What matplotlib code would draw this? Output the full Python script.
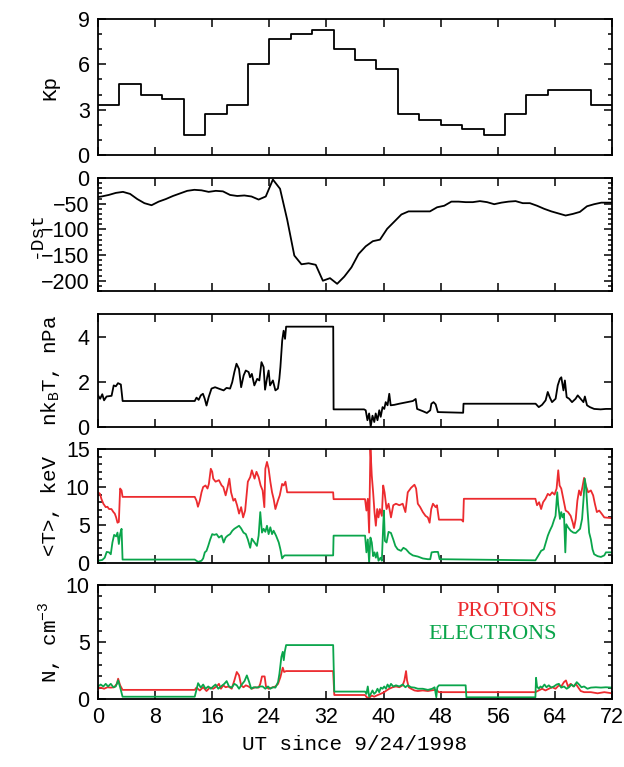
import numpy as np
import matplotlib
matplotlib.use("Agg")
import matplotlib.pyplot as plt
from matplotlib.ticker import MultipleLocator

# ---- data ----
kp_start = [0, 3, 6, 9, 12, 15, 18, 21, 24, 27, 30, 33, 36, 39, 42, 45, 48, 51, 54, 57, 60, 63, 66, 69]
kp_vals = [3.3, 4.7, 4.0, 3.7, 1.3, 2.7, 3.3, 6.0, 7.7, 8.0, 8.3, 7.0, 6.3, 5.7, 2.7, 2.3, 2.0, 1.7,
           1.3, 2.7, 4.0, 4.3, 4.3, 3.3]

dst_t = [0] + [h + 0.5 for h in range(72)] + [72]
dst_vals = [-37,
            -36, -33, -29, -27, -31, -41, -49, -53, -46, -41, -35, -30, -25, -23, -24, -27, -25, -26,
            -33, -35, -34, -36, -42, -36, -3, -21, -81, -151, -168, -166, -169, -200, -195, -206, -192,
            -174, -148, -133, -123, -120, -99, -85, -71, -65, -65, -65, -65, -57, -54, -46, -46, -47,
            -47, -45, -47, -51, -48, -46, -45, -49, -49, -54, -60, -65, -69, -73, -70, -66, -55, -51,
            -48, -48,
            -48]

pressure = [(0, 1.4), (0.3, 1.25), (0.6, 1.45), (0.85, 1.18), (1.2, 1.35), (1.9, 1.38), (2.2, 1.84),
            (2.5, 1.8), (2.8, 1.94), (3.2, 1.88), (3.45, 1.15), (13.55, 1.15), (13.8, 1.3), (14.1, 1.2),
            (14.4, 1.4), (14.7, 1.47), (14.95, 1.25), (15.2, 0.95), (15.5, 1.32), (15.9, 1.7),
            (16.4, 1.76), (16.9, 1.7), (17.6, 1.62), (18.0, 1.73), (18.5, 1.7), (18.8, 1.98),
            (19.1, 2.43), (19.4, 2.8), (19.75, 2.57), (20.05, 1.76), (20.4, 2.28), (20.7, 2.5),
            (21.1, 2.43), (21.3, 2.2), (21.55, 2.35), (21.9, 1.84), (22.3, 2.13), (22.6, 2.06),
            (22.9, 2.87), (23.2, 2.65), (23.4, 1.65), (23.7, 2.2), (23.9, 2.5), (24.1, 1.84),
            (24.5, 2.06), (24.85, 1.62), (25.2, 1.7), (25.4, 2.13), (25.55, 2.65), (25.8, 3.82),
            (26.0, 4.26), (26.2, 3.9), (26.35, 4.44), (32.95, 4.44), (33.0, 0.78), (37.27, 0.78),
            (37.5, 0.74), (37.74, 0.3), (37.98, 0.6), (38.2, 0.02), (38.45, 0.5), (38.7, 0.22),
            (38.9, 0.6), (39.15, 0.3), (39.4, 0.74), (39.6, 0.45), (39.86, 0.88), (40.1, 0.8),
            (40.3, 1.1), (40.56, 0.96), (40.8, 1.47), (41.0, 0.96), (41.5, 0.98), (42.2, 1.03),
            (43.15, 1.09), (44.1, 1.15), (44.5, 1.24), (44.7, 0.8), (45.5, 0.7), (46.07, 0.62),
            (46.54, 0.74), (46.7, 1.03), (47.0, 1.1), (47.3, 1.0), (47.6, 0.66), (51.15, 0.63),
            (51.2, 1.03), (61.3, 1.03), (61.74, 0.88), (62.2, 0.98), (62.7, 1.18), (63.0, 1.55),
            (63.3, 1.3), (63.6, 1.1), (64.1, 1.25), (64.4, 1.84), (64.7, 2.13), (64.9, 2.2),
            (65.2, 1.62), (65.4, 2.06), (65.65, 1.32), (66.0, 1.25), (66.4, 1.1), (66.9, 1.25),
            (67.2, 1.4), (67.6, 1.25), (68.0, 1.1), (68.2, 1.35), (68.5, 0.96), (68.9, 0.88),
            (69.5, 0.8), (70.4, 0.78), (71.15, 0.8), (72, 0.8)]

temp_p = [(0, 9.3), (0.28, 9.1), (0.47, 8.45), (0.75, 7.8), (1.08, 7.35), (1.32, 7.4), (1.55, 7.1),
          (1.88, 7.1), (2.16, 6.7), (2.35, 6.5), (2.54, 6.0), (2.73, 5.3), (2.92, 5.4), (3.1, 9.8),
          (3.3, 9.55), (3.44, 8.7), (13.55, 8.7), (13.8, 8.2), (14.0, 7.4), (14.26, 8.2), (14.5, 9.3),
          (14.73, 10.0), (15.06, 10.2), (15.34, 9.8), (15.53, 10.4), (15.8, 12.4), (16.0, 12.0),
          (16.14, 11.1), (16.47, 10.7), (16.94, 10.9), (17.32, 10.2), (17.55, 10.0), (17.88, 8.9),
          (18.16, 10.0), (18.4, 11.1), (18.64, 9.3), (18.96, 8.2), (19.2, 8.45), (19.48, 7.6),
          (19.76, 6.5), (20.05, 7.35), (20.33, 6.0), (20.61, 6.9), (20.99, 10.7), (21.32, 11.3),
          (21.55, 12.2), (21.93, 11.1), (22.2, 12.0), (22.5, 11.3), (22.78, 10.2), (23.06, 9.55),
          (23.3, 7.35), (23.44, 12.4), (23.67, 13.3), (23.9, 12.4), (24.14, 10.7), (24.38, 9.3),
          (24.6, 8.45), (24.85, 7.1), (25.2, 8.2), (25.46, 8.9), (25.79, 10.4), (26.02, 10.2),
          (26.26, 10.7), (26.5, 9.3), (32.94, 9.3), (33.0, 8.4), (37.41, 8.4), (37.6, 6.9),
          (37.79, 8.45), (37.98, 4.0), (38.16, 15.2), (38.35, 11.5), (38.54, 9.3), (38.73, 6.7),
          (38.92, 4.9), (39.11, 7.1), (39.29, 6.0), (39.48, 7.1), (39.76, 6.2), (39.95, 10.2),
          (40.14, 9.3), (40.42, 7.1), (40.7, 7.8), (41.04, 6.0), (41.36, 7.6), (41.74, 7.8),
          (42.21, 7.6), (42.68, 7.8), (43.06, 6.7), (43.39, 9.3), (43.86, 9.9), (44.33, 10.3),
          (44.56, 9.8), (44.8, 7.8), (45.13, 7.35), (45.5, 6.7), (45.88, 6.2), (46.2, 6.0),
          (46.45, 5.3), (46.68, 7.1), (46.92, 7.8), (47.29, 7.35), (47.48, 7.6), (47.76, 5.7),
          (50.92, 5.7), (51.15, 5.45), (51.25, 8.45), (61.27, 8.45), (61.5, 7.6), (61.79, 8.0),
          (62.07, 7.1), (62.35, 8.0), (62.68, 8.45), (63.01, 9.1), (63.29, 8.9), (63.62, 9.3),
          (63.95, 9.0), (64.24, 9.8), (64.47, 12.2), (64.66, 10.2), (64.89, 9.8), (65.18, 8.45),
          (65.51, 6.9), (65.84, 6.7), (66.21, 6.2), (66.49, 5.35), (66.68, 4.6), (66.92, 5.8),
          (67.15, 8.2), (67.39, 9.55), (67.62, 8.9), (67.86, 10.0), (68.09, 11.2), (68.33, 10.2),
          (68.66, 9.3), (69.04, 9.55), (69.36, 8.9), (69.6, 7.8), (69.88, 6.7), (70.21, 6.9),
          (70.54, 6.5), (70.92, 6.0), (72, 5.9)]

temp_e = [(0, 0.3), (0.6, 0.4), (0.94, 0.7), (1.22, 1.46), (1.55, 1.4), (1.79, 1.15), (2.02, 2.7),
          (2.26, 3.7), (2.54, 3.5), (2.73, 4.0), (2.92, 2.5), (3.1, 3.8), (3.3, 4.5), (3.44, 0.45),
          (13.55, 0.45), (14.02, 0.15), (14.5, 0.3), (14.73, 0.6), (14.96, 1.4), (15.2, 1.6),
          (15.44, 2.25), (15.72, 3.1), (16.0, 3.8), (16.28, 3.7), (16.61, 3.8), (16.94, 3.35),
          (17.32, 3.6), (17.6, 2.7), (17.88, 3.35), (18.16, 3.6), (18.5, 3.8), (18.82, 4.25),
          (19.1, 4.5), (19.44, 4.7), (19.76, 4.9), (20.05, 4.55), (20.38, 4.0), (20.71, 3.8),
          (20.99, 3.1), (21.32, 2.0), (21.55, 3.2), (21.93, 2.7), (22.26, 2.25), (22.5, 3.6),
          (22.73, 6.7), (22.97, 4.0), (23.2, 4.5), (23.44, 4.1), (23.67, 4.9), (23.9, 3.8),
          (24.14, 4.7), (24.38, 3.8), (24.6, 4.25), (24.94, 3.6), (25.32, 2.7), (25.55, 1.8),
          (25.79, 0.6), (26.02, 0.9), (26.16, 1.0), (32.94, 1.0), (33.0, 3.6), (37.41, 3.6),
          (37.6, 1.4), (37.79, 3.1), (37.98, 0.05), (38.16, 3.35), (38.35, 2.7), (38.54, 0.9),
          (38.73, 1.4), (38.92, 0.7), (39.11, 1.4), (39.29, 0.3), (39.58, 0.7), (39.76, 0.3),
          (39.95, 4.9), (40.05, 6.9), (40.19, 2.9), (40.42, 2.7), (40.7, 4.1), (41.04, 3.95),
          (41.36, 3.1), (41.65, 2.25), (41.98, 1.8), (42.45, 1.6), (42.78, 2.0), (43.15, 1.8),
          (43.62, 1.3), (44.1, 1.0), (44.8, 0.85), (45.5, 0.6), (46.2, 0.5), (46.54, 0.5),
          (46.73, 1.4), (47.15, 1.46), (47.62, 1.46), (47.86, 0.5), (61.27, 0.35), (61.5, 0.7),
          (61.79, 1.15), (62.07, 1.6), (62.45, 1.8), (62.73, 2.7), (63.01, 3.6), (63.29, 4.25),
          (63.62, 4.9), (63.86, 5.6), (64.09, 6.2), (64.33, 9.3), (64.47, 7.6), (64.71, 5.8),
          (64.89, 6.7), (65.08, 6.0), (65.27, 6.5), (65.46, 1.4), (65.6, 5.1), (65.84, 4.7),
          (66.21, 4.25), (66.59, 4.0), (66.92, 3.95), (67.25, 4.25), (67.53, 4.5), (67.81, 5.8),
          (68.05, 8.9), (68.19, 11.1), (68.38, 9.8), (68.56, 7.1), (68.8, 4.0), (69.04, 3.1),
          (69.27, 1.8), (69.5, 1.15), (69.98, 0.9), (70.45, 0.8), (70.92, 1.0), (71.15, 1.4),
          (72, 1.4)]

dens_p = [(0, 0.9), (0.38, 1.0), (0.85, 0.9), (1.32, 1.03), (1.79, 1.0), (2.26, 1.03), (2.64, 1.33),
          (2.82, 1.78), (3.1, 1.2), (3.44, 0.8), (13.55, 0.8), (13.79, 1.0), (14.26, 0.75),
          (14.73, 1.03), (15.2, 0.7), (15.67, 1.0), (16.14, 0.9), (16.61, 1.1), (16.94, 1.33),
          (17.22, 0.9), (17.55, 1.2), (17.88, 1.03), (18.26, 1.1), (18.73, 0.9), (19.1, 1.63),
          (19.44, 2.37), (19.76, 2.07), (20.05, 1.2), (20.38, 1.03), (20.71, 1.2), (21.08, 1.1),
          (21.55, 0.9), (22.02, 1.03), (22.5, 1.0), (22.73, 1.33), (22.97, 1.98), (23.34, 1.98),
          (23.53, 1.1), (23.9, 0.9), (24.38, 1.0), (24.85, 1.1), (25.22, 1.33), (25.55, 1.92),
          (25.88, 2.75), (26.07, 2.37), (26.35, 2.45), (32.94, 2.45), (33.1, 0.35), (37.41, 0.35),
          (37.65, 0.15), (37.98, 0.1), (38.35, 0.3), (38.68, 0.2), (39.01, 0.3), (39.39, 0.4),
          (39.76, 0.5), (40.09, 0.6), (40.42, 0.75), (40.8, 0.9), (41.27, 1.03), (41.74, 1.1),
          (42.21, 1.03), (42.68, 1.2), (42.92, 1.63), (43.15, 2.45), (43.29, 1.63), (43.53, 1.03),
          (43.86, 0.9), (44.33, 0.75), (44.8, 0.7), (45.5, 0.75), (46.21, 0.7), (46.68, 0.75),
          (47.15, 0.8), (47.48, 0.75), (47.76, 0.6), (61.27, 0.6), (61.74, 0.75), (62.21, 0.9),
          (62.68, 0.75), (63.15, 0.9), (63.62, 1.03), (64.09, 0.9), (64.56, 1.2), (64.89, 1.1),
          (65.27, 1.48), (65.55, 1.63), (65.84, 1.1), (66.21, 1.33), (66.59, 1.1), (66.92, 1.33),
          (67.25, 1.03), (67.62, 0.7), (68.09, 0.6), (69.04, 0.6), (69.98, 0.5), (70.92, 0.6),
          (72, 0.5)]

dens_e = [(0, 1.1), (0.38, 1.27), (0.75, 1.1), (1.08, 1.33), (1.41, 1.1), (1.79, 1.33), (2.16, 1.03),
          (2.49, 1.1), (2.82, 1.63), (3.1, 1.03), (3.44, 0.2), (13.55, 0.2), (13.79, 0.8),
          (14.02, 1.39), (14.4, 1.0), (14.73, 1.27), (15.06, 0.9), (15.44, 1.1), (15.81, 0.9),
          (16.14, 1.1), (16.47, 1.27), (16.85, 0.9), (17.22, 1.1), (17.69, 1.33), (18.02, 1.57),
          (18.35, 1.1), (18.73, 1.0), (19.1, 1.33), (19.44, 1.2), (19.76, 0.9), (20.14, 1.27),
          (20.52, 1.57), (20.85, 2.07), (21.18, 1.48), (21.46, 0.9), (21.79, 1.03), (22.26, 1.0),
          (22.73, 1.1), (23.06, 1.1), (23.44, 0.9), (23.81, 1.1), (24.14, 0.9), (24.47, 1.03),
          (24.85, 1.0), (25.22, 1.48), (25.41, 2.2), (25.69, 3.7), (25.88, 4.14), (26.02, 3.4),
          (26.16, 4.14), (26.35, 4.73), (32.94, 4.73), (33.1, 0.65), (37.41, 0.65), (37.6, 0.45),
          (37.79, 1.1), (37.98, 0.2), (38.21, 0.45), (38.45, 0.75), (38.68, 0.45), (38.92, 0.6),
          (39.15, 0.9), (39.39, 0.6), (39.62, 1.0), (39.86, 0.9), (40.09, 1.1), (40.33, 0.9),
          (40.56, 1.27), (40.8, 1.03), (41.04, 1.33), (41.36, 1.1), (41.74, 1.2), (42.21, 1.1),
          (42.68, 1.27), (43.06, 1.03), (43.39, 1.2), (43.86, 1.03), (44.33, 1.0), (44.8, 0.9),
          (45.5, 0.9), (46.21, 0.8), (46.82, 0.9), (47.15, 1.03), (47.39, 0.15), (47.53, 1.03),
          (47.76, 1.2), (51.5, 1.2), (51.6, 0.15), (61.27, 0.15), (61.36, 1.86), (61.5, 1.1),
          (61.74, 0.9), (61.98, 1.1), (62.21, 1.0), (62.54, 1.27), (62.82, 1.03), (63.15, 1.2),
          (63.48, 1.0), (63.86, 1.1), (64.24, 1.27), (64.56, 1.33), (64.89, 1.0), (65.27, 1.1),
          (65.65, 0.9), (65.98, 1.03), (66.31, 1.27), (66.68, 1.1), (67.06, 1.48), (67.39, 1.27),
          (67.72, 1.03), (68.09, 1.1), (68.56, 0.9), (69.04, 1.0), (69.74, 1.03), (70.45, 1.0),
          (71.15, 1.03), (72, 1.0)]

x_ticks = list(range(0, 73, 8))

RED = "#ec2b2f"
GREEN = "#0aa54b"
TICKFONT = "Liberation Sans"
LABFONT = "Liberation Mono"

fig = plt.figure(figsize=(6.24, 7.67), dpi=100)
W, H = 624.0, 767.0
left, right = 98 / W, 612 / W
panels = [(19, 155), (178, 291), (314, 427), (449, 563), (585, 699)]
axes = [fig.add_axes([left, 1 - b / H, right - left, (b - t) / H]) for t, b in panels]


def style(ax, ymaj, ymin, ylim, labels_x=False):
    ax.set_xlim(0, 72)
    ax.set_ylim(*ylim)
    ax.set_xticks(x_ticks)
    ax.yaxis.set_major_locator(MultipleLocator(ymaj))
    if ymin:
        ax.yaxis.set_minor_locator(MultipleLocator(ymin))
    ax.tick_params(which="both", direction="in", top=True, right=True, width=1.1)
    ax.tick_params(which="major", length=6, labelsize=15.5, pad=6)
    ax.tick_params(which="minor", length=3)
    ax.tick_params(axis="x", which="minor", bottom=False, top=False)
    for lab in ax.get_xticklabels() + ax.get_yticklabels():
        lab.set_family(TICKFONT)
    if not labels_x:
        ax.set_xticklabels([])
    for s in ax.spines.values():
        s.set_linewidth(1.3)


def ylabel(ax, text, x=50, size=15):
    pos = ax.get_position()
    fig.text(x / W, pos.y0 + pos.height / 2, text, rotation=90, ha="center", va="center",
             fontsize=size, family=LABFONT)


# Kp
ax = axes[0]
ax.step(kp_start + [72], kp_vals + [kp_vals[-1]], where="post", color="black", lw=1.3)
style(ax, 3, 1, (0, 9))
ylabel(ax, "Kp")

# Dst (tick labels are wide here, so the label sits a little further left)
ax = axes[1]
ax.plot(dst_t, dst_vals, color="black", lw=1.3)
style(ax, 50, 10, (-220, 0))
ylabel(ax, "-Dst", x=36, size=14)

# pressure
ax = axes[2]
pt, pv = np.array(pressure).T
ax.plot(pt, pv, color="black", lw=1.3)
style(ax, 2, None, (0, 5))
ylabel(ax, r"nk$_\mathregular{B}$T, nPa")

# temperature
ax = axes[3]
tt, tv = np.array(temp_p).T
ax.plot(tt, tv, color=RED, lw=1.3)
et, ev = np.array(temp_e).T
ax.plot(et, ev, color=GREEN, lw=1.3)
style(ax, 5, 1, (0, 15))
ylabel(ax, "<T>, keV")

# density
ax = axes[4]
dt, dv = np.array(dens_p).T
ax.plot(dt, dv, color=RED, lw=1.3)
nt, nv = np.array(dens_e).T
ax.plot(nt, nv, color=GREEN, lw=1.3)
style(ax, 5, 1, (0, 10), labels_x=True)
ylabel(ax, r"N, cm$^\mathregular{-3}$")
ax.text(0.893, 0.77, "PROTONS", transform=ax.transAxes, ha="right", va="center",
        color=RED, fontsize=16, family="Liberation Serif")
ax.text(0.893, 0.565, "ELECTRONS", transform=ax.transAxes, ha="right", va="center",
        color=GREEN, fontsize=16, family="Liberation Serif")
fig.text(355 / W, 1 - 745 / H, "UT since 9/24/1998", ha="center", va="center",
         fontsize=15, family=LABFONT)

fig.savefig("out.png", dpi=100)
